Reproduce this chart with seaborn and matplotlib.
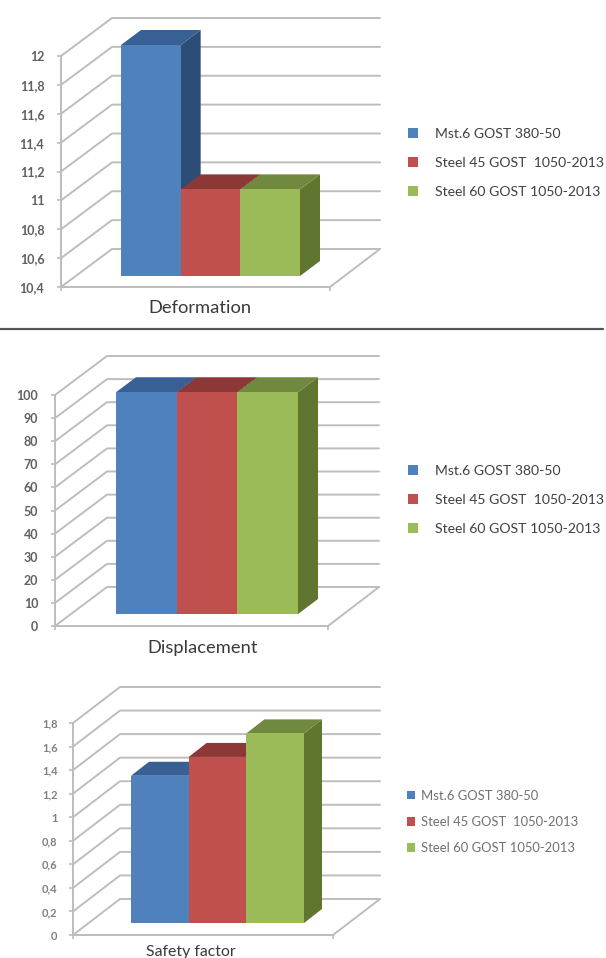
import matplotlib.pyplot as plt
import seaborn as sns
import pandas as pd
import numpy as np
from matplotlib.lines import Line2D
from matplotlib.patches import Polygon

W, H = 606, 958

# Values
steels = ['Mst.6 GOST 380-50', 'Steel 45 GOST  1050-2013', 'Steel 60 GOST 1050-2013']
deformation = [12, 11, 11]
displacement = [96, 96, 96]
safety_factor = [1.25, 1.41, 1.61]

deformation_ticks = [10.4, 10.6, 10.8, 11, 11.2, 11.4, 11.6, 11.8, 12]
displacement_ticks = [0, 10, 20, 30, 40, 50, 60, 70, 80, 90, 100]
safety_ticks = [0, 0.2, 0.4, 0.6, 0.8, 1, 1.2, 1.4, 1.6, 1.8]

front_colors = ['#4F81BD', '#C0504D', '#9BBB59']
side_colors = ['#2C4D75', '#772C2A', '#5F7530']
top_colors = ['#386094', '#8C3836', '#71893F']
grid_color = '#BDBDBD'

sns.set_theme(style='white')
plt.rcParams['font.family'] = ['Lato', 'DejaVu Sans']


def axes_from_pixels(fig, left, right, top, bottom):
    return fig.add_axes([left / W, 1 - bottom / H, (right - left) / W, (bottom - top) / H])


def fmt(v):
    return '{:g}'.format(v).replace('.', ',')


def panel(fig, name, values, ticks, box, wall, bars, bar_depth, label, legend, tick_pad, small=False):
    left, right, top, bottom = box
    lo, hi = ticks[0], ticks[-1]
    px_per_unit = (bottom - top) / (hi - lo)

    # front plane: axis, walls and floor
    ax = axes_from_pixels(fig, left, right, top, bottom)
    ax.patch.set_visible(False)
    ax.set_xlim(0, 1)
    ax.set_ylim(lo, hi)
    wall_x = wall[0] / (right - left)
    wall_y = wall[1] / px_per_unit
    end_x = wall[2] / (right - left)
    for v in ticks:
        ax.plot([0, wall_x, 1 + end_x], [v, v + wall_y, v + wall_y],
                color=grid_color, lw=1.4, clip_on=False, zorder=1)
    ax.plot([1, 1 + end_x], [lo, lo + wall_y], color=grid_color, lw=1.4, clip_on=False, zorder=1)
    sns.despine(ax=ax)
    for side in ['left', 'bottom']:
        ax.spines[side].set_color(grid_color)
        ax.spines[side].set_linewidth(1.4)
    ax.set_yticks(ticks)
    ax.set_yticklabels([fmt(v) for v in ticks], fontweight='bold')
    ax.set_xticks([0, 1])
    ax.set_xticklabels([])
    tick_size, tick_color = (8, '#808080') if small else (9, '#606060')
    ax.tick_params(axis='both', length=3, width=1.2, color=grid_color, left=True, bottom=True)
    ax.tick_params(axis='y', labelsize=tick_size, labelcolor=tick_color, pad=tick_pad)
    ax.set_ylabel('')
    ax.set_xlabel(name, x=label[0], labelpad=label[1], fontsize=label[2], color='#3A3A3A')

    # bar plane sits inside the box, shifted into depth
    bar_left, bar_right, bar_base = bars
    bar_ax = axes_from_pixels(fig, bar_left, bar_right, bar_base - (bottom - top), bar_base)
    data = pd.DataFrame({'steel': steels, 'value': values})
    sns.barplot(data=data, x='steel', y='value', hue='steel', hue_order=steels,
                palette=front_colors, width=1, saturation=1, linewidth=0,
                legend=True, ax=bar_ax)
    bar_ax.set_xlim(-0.5, len(steels) - 0.5)
    bar_ax.set_ylim(lo, hi)
    bar_ax.patch.set_visible(False)
    for s in bar_ax.spines.values():
        s.set_visible(False)
    bar_ax.set_xticks([])
    bar_ax.set_yticks([])
    bar_ax.set_xlabel('')
    bar_ax.set_ylabel('')

    dx = bar_depth[0] / ((bar_right - bar_left) / len(steels))
    dy = bar_depth[1] / px_per_unit
    for i, bar in enumerate(bar_ax.patches[:len(steels)]):
        x0, x1 = bar.get_x(), bar.get_x() + bar.get_width()
        v = bar.get_height()
        bar.set_zorder(3 * i + 4)
        bar_ax.add_patch(Polygon([(x1, lo), (x1, v), (x1 + dx, v + dy), (x1 + dx, lo + dy)],
                                 color=side_colors[i], lw=0, clip_on=False, zorder=3 * i + 2))
        bar_ax.add_patch(Polygon([(x0, v), (x1, v), (x1 + dx, v + dy), (x0 + dx, v + dy)],
                                 color=top_colors[i], lw=0, clip_on=False, zorder=3 * i + 3))

    # legend to the right
    leg_x, leg_y, leg_size, spacing, pad, handle = legend
    sns.move_legend(bar_ax, loc='center left', bbox_to_anchor=(leg_x / W, 1 - leg_y / H),
                    bbox_transform=fig.transFigure, frameon=False, title=None,
                    fontsize=leg_size, labelspacing=spacing, handlelength=handle,
                    handleheight=handle, handletextpad=pad, borderpad=0, borderaxespad=0,
                    labelcolor='#707070' if small else '#404040')


fig = plt.figure(figsize=(W / 100, H / 100), dpi=100)

panel(fig, 'Deformation', deformation, deformation_ticks,
      box=(61, 330, 56, 287), wall=(51, 38, 50), bars=(121, 300, 276), bar_depth=(20, 15),
      label=(0.515, 2.7, 13.2), legend=(408, 163, 10.1, 1.23, 1.2, 0.7), tick_pad=9)
panel(fig, 'Displacement', displacement, displacement_ticks,
      box=(55, 328, 395, 626), wall=(52, 39, 51), bars=(116, 298, 614), bar_depth=(20, 15),
      label=(0.54, 3.7, 13.2), legend=(408, 500, 10.1, 1.23, 1.2, 0.7), tick_pad=9)
panel(fig, 'Safety factor', safety_factor, safety_ticks,
      box=(73, 333, 723, 935), wall=(47, 36, 47), bars=(131, 304, 923), bar_depth=(18, 14),
      label=(0.455, 0.5, 11.4), legend=(407, 822, 9.4, 1.1, 0.4, 0.65), tick_pad=8, small=True)

# dark rule between the first two charts
fig.add_artist(Line2D([0, 0.995], [1 - 329 / H, 1 - 329 / H], color='#555555', lw=1.6))

fig.savefig('out.png', dpi=100)
